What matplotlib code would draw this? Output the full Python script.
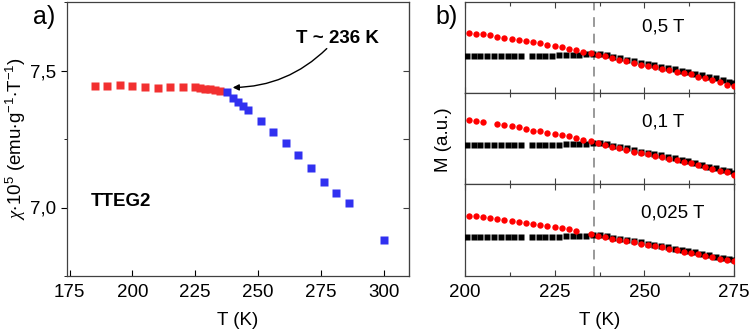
import matplotlib
matplotlib.use("Agg")
import matplotlib.pyplot as plt
from matplotlib.ticker import MultipleLocator, NullFormatter, NullLocator

plt.rcParams['font.family'] = ['Liberation Sans', 'DejaVu Sans']
plt.rcParams['mathtext.fontset'] = 'custom'
plt.rcParams['mathtext.rm'] = 'Liberation Sans'
plt.rcParams['mathtext.it'] = 'Liberation Serif:italic'
plt.rcParams['mathtext.default'] = 'regular'

# ---------------- panel a data ----------------
a_red_T = [185, 190, 195, 200, 205, 210, 215, 220, 225, 227, 229, 231, 233, 235]
a_red_chi = [7.442, 7.444, 7.448, 7.442, 7.440, 7.437, 7.438, 7.440, 7.440,
             7.437, 7.434, 7.433, 7.430, 7.424]
a_blue_T = [237.5, 240, 242, 244, 246, 251, 256, 261, 266, 271, 276, 281, 286, 300]
a_blue_chi = [7.420, 7.400, 7.385, 7.369, 7.355, 7.316, 7.275, 7.237, 7.191,
              7.145, 7.094, 7.053, 7.018, 6.883]

# ---------------- panel b data (a.u.) ----------------
b_red_T = [201, 203, 205, 207, 209, 211, 213, 215, 217, 219, 221, 223, 225, 227,
           229, 231, 233, 235, 237, 239, 241, 243, 245, 247, 249, 251, 253, 255,
           257, 259, 261, 263, 265, 267, 269, 271, 273, 275]
red_05 = [60.3, 59.3, 58.7, 57.7, 56.3, 55.3, 54.3, 53.3, 52.3, 51.0, 49.5, 48.3,
          47.0, 45.7, 44.3, 42.8, 41.3, 40.0, 38.3, 36.5, 34.5, 33.0, 31.7, 29.7,
          28.3, 27.0, 25.7, 24.3, 23.0, 21.0, 20.0, 18.7, 16.3, 14.7, 12.7, 10.5,
          8.3, 7.0]
red_01_T = [201, 203, 205, 209, 211, 213, 215, 217, 219, 221, 223, 225, 227, 229,
            231, 233, 235, 237, 239, 241, 243, 245, 247, 249, 251, 253, 255, 257,
            259, 261, 263, 265, 267, 269, 271, 273, 275]
red_01 = [63.7, 62.7, 61.7, 59.7, 58.7, 57.7, 56.7, 55.3, 53.3, 52.7, 51.3, 50.0,
          49.3, 48.0, 46.3, 44.3, 42.7, 41.3, 39.3, 36.7, 35.7, 34.0, 32.3, 30.7,
          29.7, 28.3, 27.3, 25.3, 24.0, 22.3, 20.7, 18.7, 16.7, 14.7, 13.0, 11.7,
          9.0]
red_0025_T = [201, 203, 205, 207, 209, 211, 213, 215, 217, 219, 221, 223, 225, 227,
              229, 231, 235, 237, 239, 241, 243, 245, 247, 249, 251, 253, 255, 257,
              259, 261, 263, 265, 267, 269, 271, 273, 275]
red_0025 = [59.7, 59.0, 58.3, 57.3, 56.3, 55.3, 54.7, 53.7, 52.7, 51.3, 50.3, 49.0,
            48.0, 47.0, 46.0, 44.7, 41.7, 40.0, 38.7, 37.0, 36.0, 35.0, 33.7, 31.7,
            30.7, 29.3, 28.3, 27.0, 25.3, 24.0, 23.0, 21.7, 20.0, 18.3, 17.0, 16.0,
            14.7]

b_blk_T = [200.5, 202.4, 204.3, 206.2, 208.1, 210.0, 211.9, 213.8, 215.7, 218.6,
           220.5, 222.4, 224.3, 226.2, 228.1, 230.0, 231.9, 233.8, 235.7, 237.6,
           239.5, 241.4, 243.3, 245.2, 247.1, 249.0, 250.9, 252.8, 254.7, 256.6,
           258.5, 260.4, 262.3, 264.2, 266.1, 268.0, 269.9, 271.8, 273.7, 275.0]
blk_05 = [37.3, 37.3, 37.3, 37.3, 37.3, 37.3, 37.3, 37.3, 37.3, 37.3,
          37.3, 37.3, 37.3, 37.5, 37.8, 38.1, 38.4, 38.7, 39.0, 39.0,
          37.5, 35.7, 34.5, 33.2, 31.5, 30.2, 29.0, 27.7, 26.4, 25.1,
          23.6, 22.3, 21.0, 19.4, 17.8, 16.2, 14.5, 12.8, 11.3, 10.3]
blk_01 = [39.3, 39.3, 39.3, 39.3, 39.3, 39.3, 39.3, 39.3, 39.3, 39.3,
          39.3, 39.3, 39.3, 39.5, 39.7, 40.0, 40.2, 40.5, 40.7, 41.0,
          40.0, 38.2, 37.0, 35.6, 34.0, 32.4, 31.2, 30.0, 28.7, 27.3,
          25.7, 24.3, 22.7, 21.0, 19.3, 17.5, 15.8, 14.2, 12.6, 11.5]
blk_0025 = [38.7, 38.7, 38.7, 38.7, 38.7, 38.7, 38.7, 38.7, 38.7, 38.7,
            38.7, 38.7, 38.8, 39.0, 39.2, 39.4, 39.6, 39.8, 40.2, 40.5,
            39.3, 37.9, 36.9, 35.9, 34.6, 33.2, 32.1, 30.9, 29.8, 28.5,
            27.1, 25.8, 24.6, 23.4, 22.0, 20.6, 19.2, 17.9, 16.9, 16.0]

fields = ['0,5 T', '0,1 T', '0,025 T']
T_transition = 236

RED_A = '#f23030'
BLUE_A = '#3030f0'
SPINE = '#404040'
FS = 13.5

fig = plt.figure(figsize=(7.49, 3.34), dpi=100)

# ---------------- panel a ----------------
axa = fig.add_axes([67/749, 1-276/334, (409-67)/749, (276-2)/334])
axa.plot(a_red_T, a_red_chi, 's', color=RED_A, ms=5.2, mec='none')
axa.plot(a_blue_T, a_blue_chi, 's', color=BLUE_A, ms=5.2, mec='none')
axa.set_xlim(174, 310)
axa.set_ylim(6.75, 7.75)
axa.set_xticks([175, 200, 225, 250, 275, 300])
axa.set_yticks([7.0, 7.5])
axa.set_yticklabels(['7,0', '7,5'])
axa.yaxis.set_minor_locator(MultipleLocator(0.25))
axa.tick_params(axis='both', labelsize=FS, colors='black', width=0.8)
axa.tick_params(axis='x', direction='in', length=4, bottom=True, top=False, pad=6)
axa.tick_params(axis='y', which='major', direction='out', length=4, left=True, right=False)
axa.tick_params(axis='y', which='minor', left=False, right=False)
for s in axa.spines.values():
    s.set_color(SPINE)
    s.set_linewidth(0.9)
axr = axa.twinx()
axr.set_ylim(axa.get_ylim())
axr.set_yticks([7.0, 7.25, 7.5])
axr.tick_params(axis='y', direction='in', length=4, width=0.8, labelright=False, color=SPINE)
axr.spines['right'].set_color(SPINE)
for k in ['left', 'top', 'bottom']:
    axr.spines[k].set_visible(False)
axa.set_xlabel('T (K)', fontsize=FS, labelpad=8)
axa.set_ylabel(r'$\mathit{\chi}$$\cdot$10$^{5}$ (emu$\cdot$g$^{-1}$$\cdot$T$^{-1}$)', fontsize=FS, labelpad=2)
axa.text(183.4, 7.021, 'TTEG2', fontsize=FS, fontweight='bold', ha='left', va='center')
axa.text(281.7, 7.616, 'T ~ 236 K', fontsize=FS, fontweight='bold', ha='center', va='center')
axa.annotate('', xy=(239.9, 7.438), xytext=(277.3, 7.580),
             arrowprops=dict(arrowstyle='-|>', color='black', lw=1.0,
                             connectionstyle='arc3,rad=-0.2', shrinkA=0, shrinkB=0,
                             mutation_scale=9))
fig.text(33/749, 1-17/334, 'a)', fontsize=18, ha='left', va='center')

# ---------------- panel b ----------------
bounds = [(2, 93), (93, 184), (184, 276)]
red_sets = [(b_red_T, red_05), (red_01_T, red_01), (red_0025_T, red_0025)]
blk_sets = [blk_05, blk_01, blk_0025]
label_pos = [(663, 27), (663, 122), (673, 213)]
axes_b = []
for i, (top, bot) in enumerate(bounds):
    ax = fig.add_axes([465/749, 1-bot/334, (734-465)/749, (bot-top)/334])
    axes_b.append(ax)
    ax.plot(b_blk_T, blk_sets[i], 's', color='black', ms=3.7, mec='none', zorder=3)
    rt, rv = red_sets[i]
    ax.plot(rt, rv, 'o', color='#ff0000', ms=4.6, mec='none', zorder=4)
    ax.axvline(T_transition, color='#999999', lw=1.4, ls=(0, (5, 3.5)), zorder=2, clip_on=False)
    ax.set_xlim(200, 275)
    ax.set_ylim(0, 91)
    ax.set_xticks([200, 225, 250, 275])
    ax.xaxis.set_minor_locator(MultipleLocator(12.5))
    ax.yaxis.set_major_locator(NullLocator())
    ax.tick_params(axis='x', which='both', direction='in', top=True, bottom=True,
                   color=SPINE, width=0.8)
    ax.tick_params(axis='x', which='major', length=4, pad=6)
    ax.tick_params(axis='x', which='minor', length=3)
    for s in ax.spines.values():
        s.set_color(SPINE)
        s.set_linewidth(0.9)
    if i < 2:
        ax.tick_params(axis='x', labelbottom=False)
    else:
        ax.tick_params(axis='x', labelsize=FS, labelcolor='black')
        ax.set_xlabel('T (K)', fontsize=FS, labelpad=8)
    fx, fy = label_pos[i]
    fig.text(fx/749, 1-fy/334, fields[i], fontsize=FS, ha='center', va='center')

fig.text(443/749, 1-140/334, 'M (a.u.)', fontsize=FS, rotation=90, ha='center', va='center')
fig.text(435/749, 1-17/334, 'b)', fontsize=18, ha='left', va='center')

fig.savefig('out.png', dpi=100)
